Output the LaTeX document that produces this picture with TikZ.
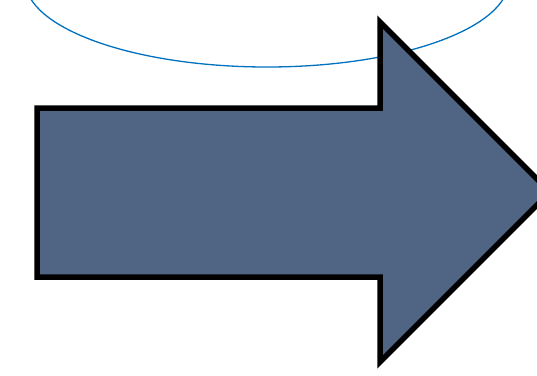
\documentclass[tikz,border=0pt]{standalone}
\definecolor{slate}{RGB}{80,101,132}
\definecolor{rimblue}{RGB}{0,112,192}
\begin{document}
\begin{tikzpicture}[x=1pt,y=-1pt]
\useasboundingbox (0,0) rectangle (537,375);
\clip (0,0) rectangle (537,375);
\draw[rimblue,line width=1.3pt] (267,-20) ellipse (242 and 87);
\filldraw[fill=slate,draw=black,line width=5.5pt,line join=miter] (37,108)--(380,108)--(380,22)--(550,192)--(380,362)--(380,277)--(37,277)--cycle;
\end{tikzpicture}
\end{document}
